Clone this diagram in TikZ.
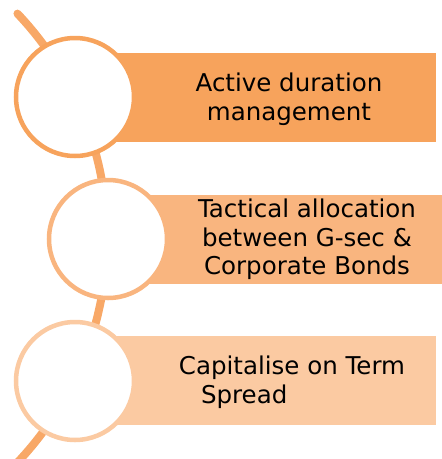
\documentclass[tikz,border=0pt]{standalone}
\usepackage{fontspec}
\setmainfont{DejaVu Sans}
\usetikzlibrary{positioning}
\definecolor{oraA}{HTML}{F7A35C}
\definecolor{oraB}{HTML}{F9B57F}
\definecolor{oraC}{HTML}{FBCAA2}
\definecolor{oraArc}{HTML}{F8A867}
\tikzset{
  ring/.style={circle,draw=#1,line width=4.5pt,fill=white,minimum size=118pt,inner sep=0pt},
  band/.style={rectangle,fill=#1,draw=none,minimum width=361pt,minimum height=89pt,anchor=west,inner sep=0pt},
  lbl/.style={font=\fontsize{24.5}{28.5}\selectfont,inner sep=0pt}
}

\begin{document}
\begin{tikzpicture}[x=1pt,y=-1pt]
\useasboundingbox (0,0) rectangle (442,459);
\clip (0,0) rectangle (442,459);

\coordinate (o) at (-219,238);
\draw[oraArc,line width=8pt,line cap=round] (o) ++(-43.5:326) arc[start angle=-43.5,end angle=50,radius=326];

\node[band=oraA] (b1) at (75,97.5) {};
\node[band=oraB] (b2) at (108,239) {};
\node[band=oraC] (b3) at (75,380.5) {};

\node[ring=oraA] (c1) at (75,97) {};
\node[ring=oraB] (c2) at (108,239) {};
\node[ring=oraC] (c3) at (75,381) {};

\node[lbl,align=center] (t1) at (289,99) {Active duration\\management};
\node[lbl,align=center] (t2) at (307,239.5) {Tactical allocation\\between G-sec \&\\Corporate Bonds};
\node[lbl,align=left] (t3) at (292,382) {Capitalise on Term\\\hspace*{0.9em}Spread};

\end{tikzpicture}
\end{document}
